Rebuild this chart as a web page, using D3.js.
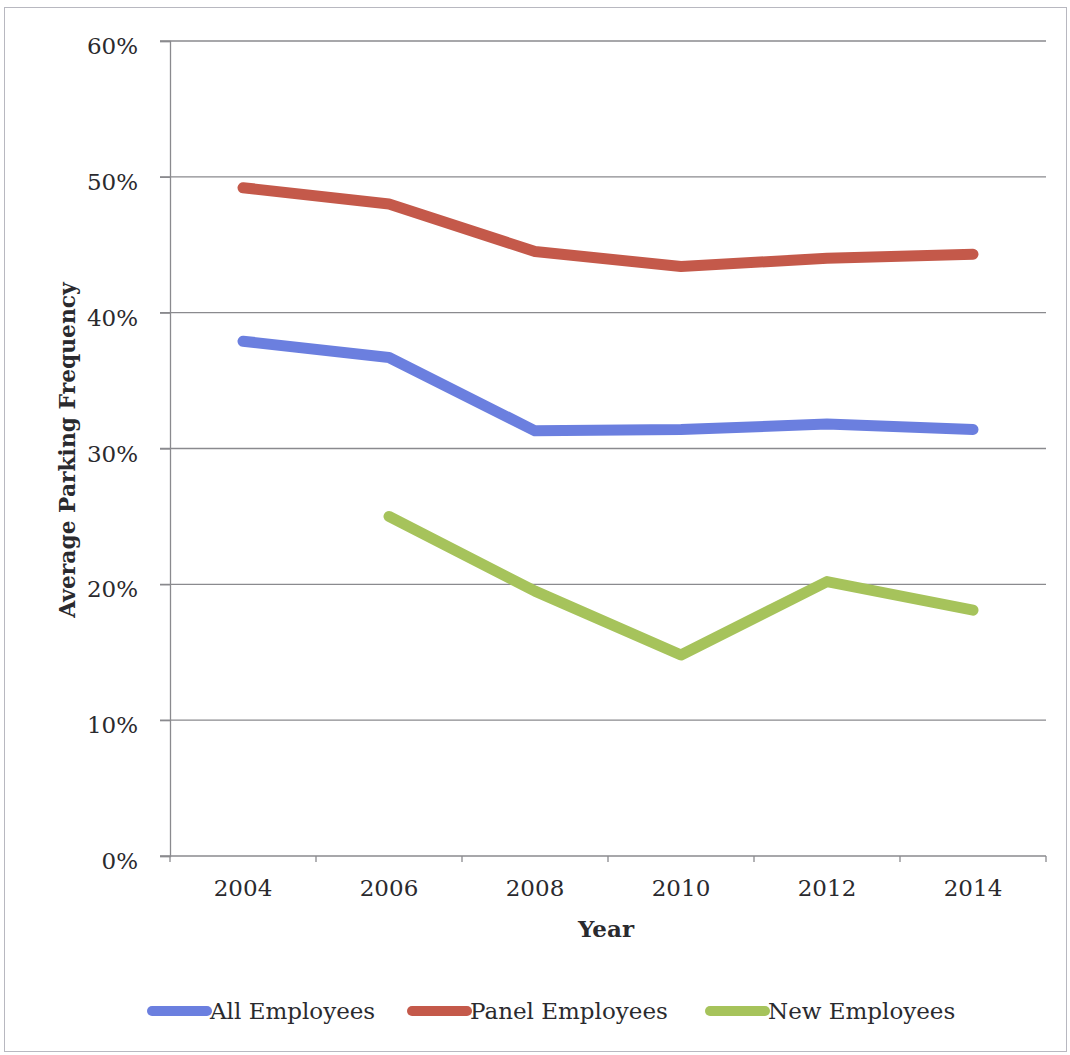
<!DOCTYPE html>
<html>
<head>
<meta charset="utf-8">
<script src="https://cdn.jsdelivr.net/npm/d3@7"></script>
<style>
  html, body { margin: 0; padding: 0; background: #fff; }
  svg { display: block; }
</style>
</head>
<body>
<svg id="chart" width="1070" height="1055"></svg>
<script>
// Average parking frequency by survey year
const years = ["2004", "2006", "2008", "2010", "2012", "2014"];
const allEmployees   = [0.379, 0.367, 0.313, 0.314, 0.318, 0.314];
const panelEmployees = [0.492, 0.480, 0.445, 0.434, 0.440, 0.443];
const newEmployees   = [null, 0.250, 0.195, 0.148, 0.202, 0.181];
const yTicks = [0, 0.1, 0.2, 0.3, 0.4, 0.5, 0.6];
const seriesNames = ["All Employees", "Panel Employees", "New Employees"];
const seriesColors = ["#6b7fdf", "#c4594a", "#a6c35b"];

const series = [allEmployees, panelEmployees, newEmployees].map((vals, i) => ({
  name: seriesNames[i],
  color: seriesColors[i],
  points: years.map((y, j) => ({ year: y, value: vals[j] }))
}));

const svg = d3.select("#chart");
const font = "'DejaVu Serif', 'Liberation Serif', serif";
const fontSize = 23;
const textColor = "#2a2a2e";

// outer frame
svg.append("rect")
  .attr("x", 4.5).attr("y", 7.5).attr("width", 1062).attr("height", 1044)
  .attr("fill", "none").attr("stroke", "#b8b8c0").attr("stroke-width", 1);

const x = d3.scaleBand().domain(years).range([170, 1046]).padding(0);
const y = d3.scaleLinear().domain([0, 0.6]).range([856, 41]);

// horizontal gridlines
svg.append("g")
  .selectAll("line")
  .data(yTicks.filter(t => t > 0))
  .join("line")
  .attr("x1", 160).attr("x2", 1046)
  .attr("y1", d => y(d)).attr("y2", d => y(d))
  .attr("stroke", "#8a8a8e").attr("stroke-width", 1.3);

// y axis
const yAxis = svg.append("g")
  .attr("transform", "translate(170,0)")
  .call(d3.axisLeft(y).tickValues(yTicks).tickFormat(d3.format(".0%")).tickSize(10).tickPadding(22));
yAxis.select(".domain").attr("stroke", "#8a8a8e").attr("stroke-width", 1.3);
yAxis.selectAll(".tick line").attr("stroke", "#8a8a8e").attr("stroke-width", 1.3);
yAxis.selectAll(".tick text")
  .attr("font-family", font).attr("font-size", fontSize).attr("fill", textColor)
  .attr("dy", "0.55em");

// x axis with ticks at category boundaries
const xAxis = svg.append("g")
  .attr("transform", `translate(0,${y(0)})`)
  .call(d3.axisBottom(x).tickSize(0).tickPadding(24));
xAxis.select(".domain").remove();
xAxis.append("line")
  .attr("x1", 160).attr("x2", 1046)
  .attr("stroke", "#8a8a8e").attr("stroke-width", 1.3);
const boundaries = years.map(d => x(d)).concat([x.range()[1]]);
xAxis.selectAll(".bound")
  .data(boundaries)
  .join("line")
  .attr("class", "bound")
  .attr("x1", d => d).attr("x2", d => d)
  .attr("y1", 0).attr("y2", 6)
  .attr("stroke", "#8a8a8e").attr("stroke-width", 1.3);
xAxis.selectAll(".tick text")
  .attr("font-family", font).attr("font-size", fontSize).attr("fill", textColor);

// axis titles
svg.append("text")
  .attr("x", 606).attr("y", 937)
  .attr("text-anchor", "middle")
  .attr("font-family", font).attr("font-weight", "bold").attr("font-size", fontSize)
  .attr("fill", textColor)
  .text("Year");

svg.append("text")
  .attr("transform", "translate(75,450) rotate(-90)")
  .attr("text-anchor", "middle")
  .attr("font-family", font).attr("font-weight", "bold").attr("font-size", 21.8)
  .attr("fill", textColor)
  .text("Average Parking Frequency");

// series lines
const line = d3.line()
  .defined(d => d.value != null)
  .x(d => x(d.year) + x.bandwidth() / 2)
  .y(d => y(d.value));

svg.append("g")
  .selectAll("path")
  .data(series)
  .join("path")
  .attr("d", d => line(d.points))
  .attr("fill", "none")
  .attr("stroke", d => d.color)
  .attr("stroke-width", 11)
  .attr("stroke-linecap", "round")
  .attr("stroke-linejoin", "round");

// legend
const legendX = [152, 412, 710];
const legend = svg.append("g")
  .selectAll("g")
  .data(series)
  .join("g")
  .attr("transform", (d, i) => `translate(${legendX[i]},1011)`);
legend.append("line")
  .attr("x1", 0).attr("x2", 55)
  .attr("stroke", d => d.color).attr("stroke-width", 10)
  .attr("stroke-linecap", "round");
legend.append("text")
  .attr("x", 58).attr("dy", "0.35em")
  .attr("font-family", font).attr("font-size", fontSize).attr("fill", textColor)
  .text(d => d.name);
</script>
</body>
</html>
